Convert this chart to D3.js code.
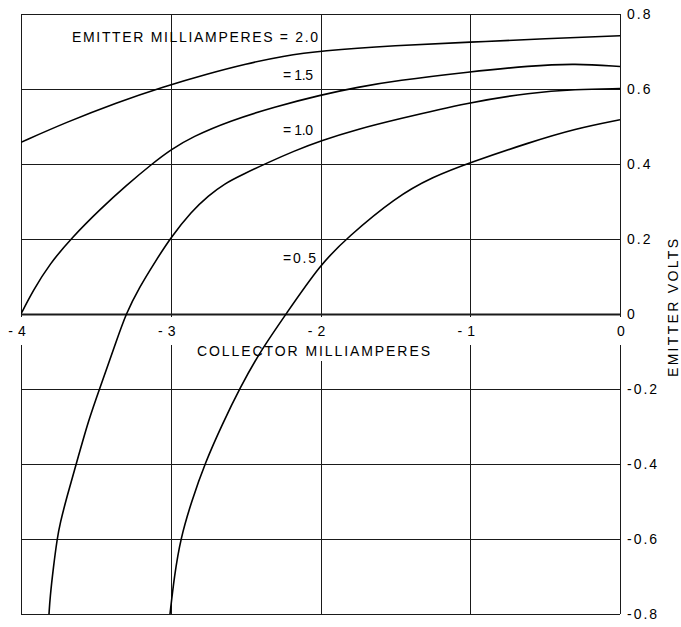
<!DOCTYPE html>
<html>
<head>
<meta charset="utf-8">
<script src="https://cdn.jsdelivr.net/npm/d3@7"></script>
<style>
  html, body { margin: 0; padding: 0; background: #fff; }
  svg { display: block; font-family: "Liberation Sans", Arial, sans-serif; }
</style>
</head>
<body>
<svg id="chart" width="681" height="627"></svg>
<script>
// Transistor input characteristics: emitter volts vs collector milliamperes,
// one curve per emitter current.
const xTicks = [-4, -3, -2, -1, 0];
const xTickLabels = ["-4", "-3", "-2", "-1", "0"];
const yTicks = [0.8, 0.6, 0.4, 0.2, 0, -0.2, -0.4, -0.6, -0.8];
const yTickLabels = ["0.8", "0.6", "0.4", "0.2", "0", "-0.2", "-0.4", "-0.6", "-0.8"];

const curveLabels = ["EMITTER MILLIAMPERES = 2.0", "= 1.5", "= 1.0", "=0.5"];

// [collector mA, emitter V]
const ie20 = [[-4, 0.458], [-3.7, 0.511], [-3.36, 0.564], [-3.05, 0.606], [-2.75, 0.641],
  [-2.5, 0.667], [-2.25, 0.688], [-2, 0.702], [-1.5, 0.716], [-1, 0.725], [-0.5, 0.734], [0, 0.742]];
const ie15 = [[-4, 0], [-3.92, 0.062], [-3.81, 0.133], [-3.66, 0.204], [-3.47, 0.28],
  [-3.3, 0.342], [-3.12, 0.402], [-3, 0.438], [-2.86, 0.472], [-2.6, 0.516], [-2.3, 0.553],
  [-2, 0.584], [-1.75, 0.605], [-1.5, 0.622], [-1, 0.646], [-0.6, 0.662], [-0.3, 0.668], [0, 0.66]];
const ie10 = [[-3.813, -0.8], [-3.806, -0.756], [-3.784, -0.676], [-3.758, -0.598], [-3.74, -0.56],
  [-3.695, -0.489], [-3.628, -0.396], [-3.55, -0.284], [-3.472, -0.196], [-3.362, -0.071],
  [-3.3, 0], [-3.21, 0.071], [-3.1, 0.142], [-3, 0.204], [-2.86, 0.274], [-2.75, 0.315],
  [-2.64, 0.348], [-2.52, 0.372], [-2.35, 0.404], [-2.18, 0.434], [-2, 0.462], [-1.74, 0.494],
  [-1.5, 0.518], [-1, 0.565], [-0.6, 0.59], [-0.3, 0.599], [0, 0.601]];
const ie05 = [[-3.005, -0.8], [-2.976, -0.699], [-2.935, -0.599], [-2.86, -0.498], [-2.77, -0.396],
  [-2.655, -0.293], [-2.538, -0.197], [-2.4, -0.098], [-2.23, 0], [-2, 0.133], [-1.82, 0.204],
  [-1.5, 0.311], [-1.25, 0.366], [-1, 0.404], [-0.6, 0.458], [-0.3, 0.494], [0, 0.518]];
const series = [ie20, ie15, ie10, ie05];

const margin = { left: 21, top: 14, right: 61, bottom: 13 };
const W = 681, H = 627;
const iw = W - margin.left - margin.right;   // 599
const ih = H - margin.top - margin.bottom;   // 600

const svg = d3.select("#chart");
const g = svg.append("g").attr("transform", `translate(${margin.left},${margin.top})`);

const x = d3.scaleLinear().domain([-4, 0]).range([0, iw]);
const y = d3.scaleLinear().domain([-0.8, 0.8]).range([ih, 0]);

// grid
const grid = g.append("g").attr("stroke", "#1a1a1a").attr("stroke-width", 1).attr("fill", "none");
grid.selectAll("line.h").data(yTicks).join("line")
  .attr("x1", 0).attr("x2", iw)
  .attr("y1", d => Math.round(y(d)) + 0.5).attr("y2", d => Math.round(y(d)) + 0.5)
  .attr("stroke-width", d => d === 0 ? 2.2 : 1);
grid.selectAll("line.v").data(xTicks).join("line")
  .attr("x1", d => Math.round(x(d)) + 0.5).attr("x2", d => Math.round(x(d)) + 0.5)
  .attr("y1", 0).attr("y2", ih);

// white pads behind labels that sit on the vertical grid lines
const pads = g.append("g");
const labels = g.append("g").attr("fill", "#000").attr("font-size", 14);

// x tick labels: digit centred on its grid line, minus sign set off to the left
const xt = labels.selectAll("g.xt").data(xTicks).join("g")
  .attr("transform", d => `translate(${x(d) + 1},${y(0) + 22})`);
xt.append("text")
  .attr("text-anchor", "middle")
  .text((d, i) => xTickLabels[i].replace("-", ""));
xt.filter((d, i) => xTickLabels[i].startsWith("-")).append("text")
  .attr("x", -9)
  .attr("text-anchor", "end")
  .text("-");

const xTitle = labels.append("text")
  .attr("x", 176).attr("y", 342)
  .attr("textLength", 233).attr("lengthAdjust", "spacing")
  .text("COLLECTOR MILLIAMPERES");

xt.each(function () {
  const b = this.getBBox();
  const t = d3.select(this).attr("transform");
  pads.append("rect").attr("transform", t)
    .attr("x", b.x - 3).attr("y", b.y - 6)
    .attr("width", b.width + 6).attr("height", b.height + 12).attr("fill", "#fff");
});
{
  const b = xTitle.node().getBBox();
  pads.append("rect").attr("x", b.x - 3).attr("y", b.y - 4)
    .attr("width", b.width + 6).attr("height", b.height + 6).attr("fill", "#fff");
}

// y tick labels on the right
labels.selectAll("text.yt").data(yTicks).join("text")
  .attr("x", iw + 7)
  .attr("y", d => y(d))
  .attr("dominant-baseline", "central")
  .attr("letter-spacing", 2)
  .text((d, i) => yTickLabels[i]);

// right-hand axis title
labels.append("text")
  .attr("transform", `translate(${W - 8.5 - margin.left},${363}) rotate(-90)`)
  .attr("dominant-baseline", "central")
  .attr("textLength", 138).attr("lengthAdjust", "spacing")
  .text("EMITTER VOLTS");

// curve labels
const curveLabelPos = [
  { x: 51, y: 27.7, len: 246 },
  { x: 262, y: 66, len: 30 },
  { x: 262, y: 121, len: 30 },
  { x: 262, y: 249, len: 33 }
];
labels.selectAll("text.cl").data(curveLabels).join("text")
  .attr("x", (d, i) => curveLabelPos[i].x)
  .attr("y", (d, i) => curveLabelPos[i].y)
  .attr("textLength", (d, i) => curveLabelPos[i].len)
  .attr("lengthAdjust", "spacing")
  .text(d => d);

// characteristic curves
g.append("clipPath").attr("id", "plot").append("rect")
  .attr("x", 0).attr("y", 0).attr("width", iw).attr("height", ih);

const line = d3.line()
  .x(d => x(d[0])).y(d => y(d[1]))
  .curve(d3.curveBasis);

g.append("g").attr("clip-path", "url(#plot)")
  .selectAll("path").data(series).join("path")
  .attr("d", line)
  .attr("fill", "none")
  .attr("stroke", "#000")
  .attr("stroke-width", 1.6);
</script>
</body>
</html>
